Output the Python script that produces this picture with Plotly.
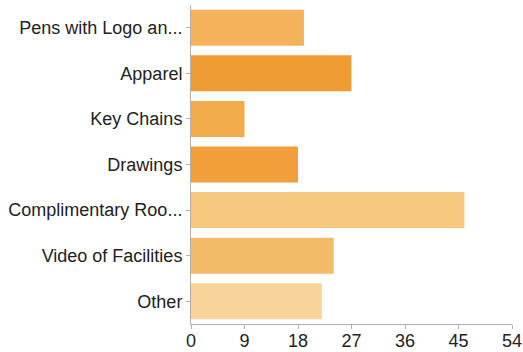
import plotly.graph_objects as go

# Promotional items and number of responses for each
categories = [
    "Pens with Logo an...",
    "Apparel",
    "Key Chains",
    "Drawings",
    "Complimentary Roo...",
    "Video of Facilities",
    "Other",
]
responses = [19, 27, 9, 18, 46, 24, 22]
bar_colors = ["#F4B35B", "#F09C35", "#F3AC4C", "#F09F3A", "#F6C77F", "#F3BA68", "#F8D49A"]
x_ticks = [0, 9, 18, 27, 36, 45, 54]

fig = go.Figure(
    go.Bar(
        x=responses,
        y=categories,
        orientation="h",
        marker=dict(color=bar_colors, line=dict(width=0)),
        hoverinfo="x+y",
    )
)

axis_font = dict(family="Liberation Sans, Arial, sans-serif", size=18, color="#222222")

fig.update_layout(
    width=523,
    height=352,
    margin=dict(l=191, r=11, t=5, b=28, autoexpand=False),
    paper_bgcolor="white",
    plot_bgcolor="white",
    bargap=0.21,
    showlegend=False,
    font=axis_font,
    xaxis=dict(
        range=[0, 54],
        tickvals=x_ticks,
        ticktext=[str(v) for v in x_ticks],
        showgrid=False,
        zeroline=False,
        showline=True,
        linecolor="#b0b0b0",
        linewidth=1,
        ticks="outside",
        ticklen=4,
        tickcolor="#b0b0b0",
        tickfont=axis_font,
        ticklabelstandoff=-4,
        automargin=False,
        fixedrange=True,
    ),
    yaxis=dict(
        categoryorder="array",
        categoryarray=categories[::-1],
        showgrid=False,
        zeroline=False,
        showline=True,
        linecolor="#b0b0b0",
        linewidth=1,
        ticks="outside",
        ticklen=4,
        tickcolor="#b0b0b0",
        tickfont=axis_font,
        automargin=False,
        fixedrange=True,
    ),
)

fig.write_html("out.html", config={"displayModeBar": False})
